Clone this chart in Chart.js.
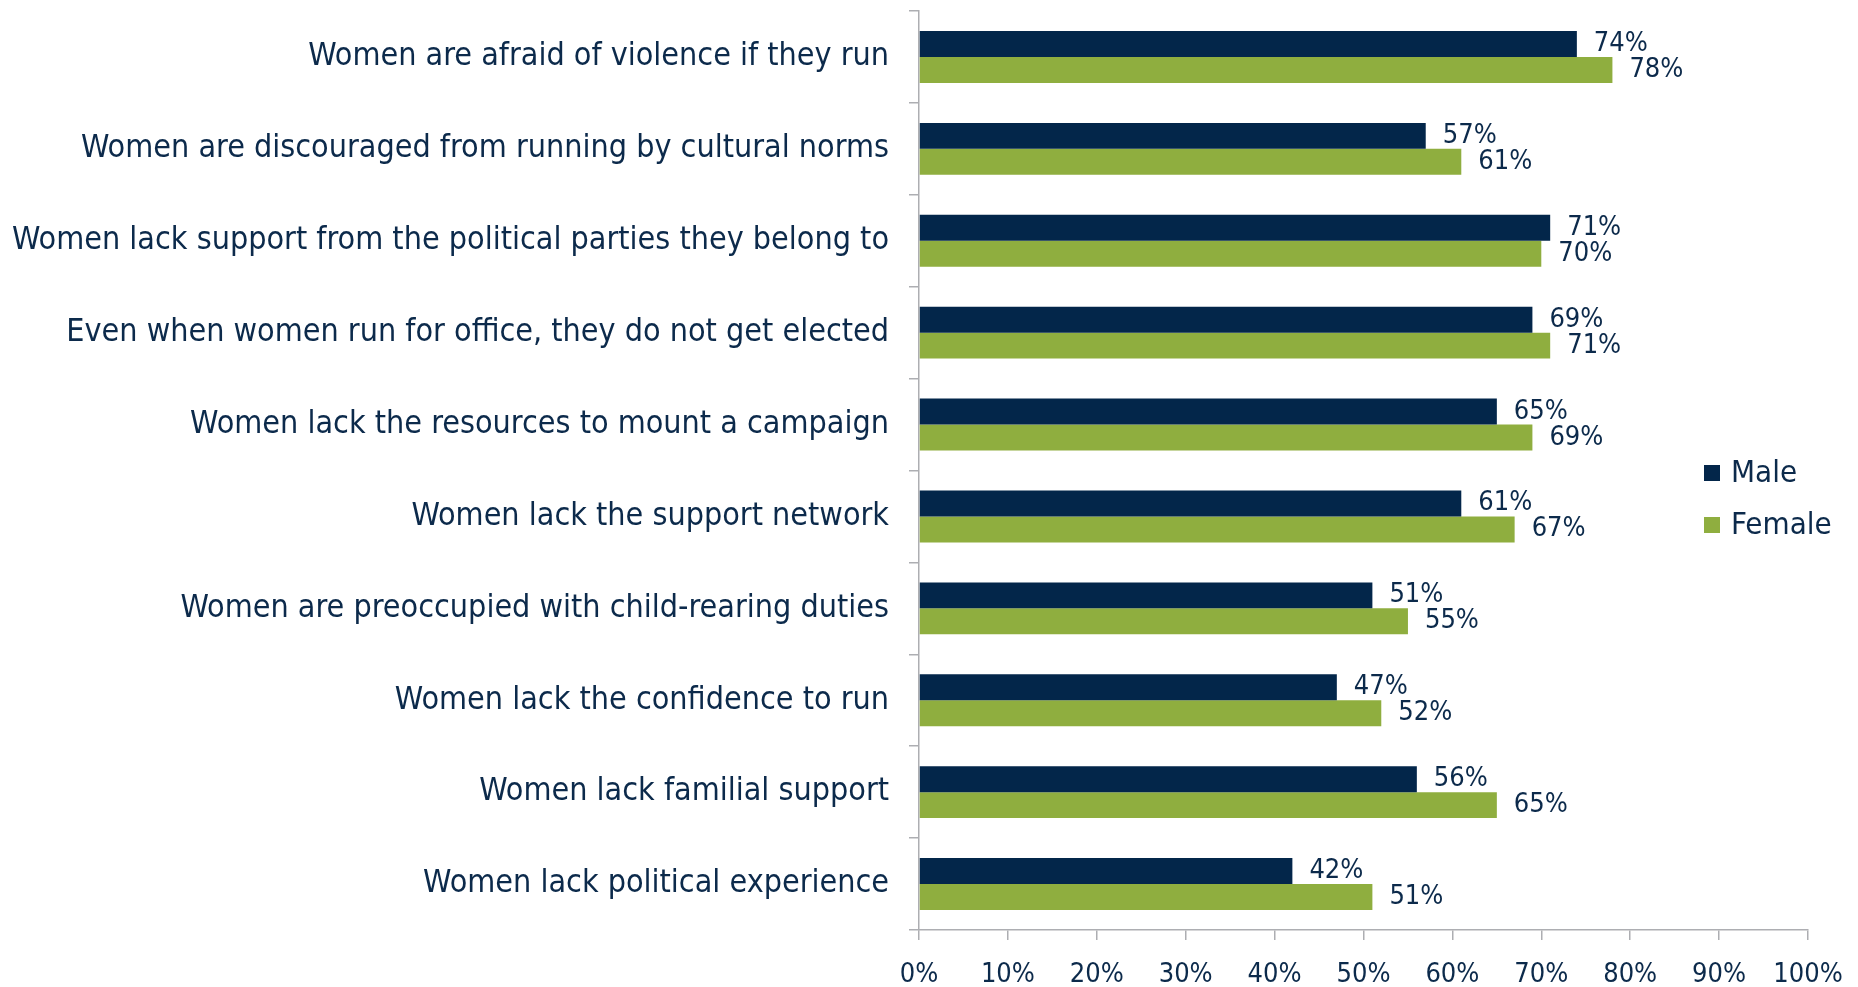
<!DOCTYPE html>
<html>
<head>
<meta charset="utf-8">
<script src="https://cdn.jsdelivr.net/npm/chart.js@4.4.1/dist/chart.umd.min.js"></script>
<style>
html,body{margin:0;padding:0;background:#fff;}
#wrap{position:relative;width:1858px;height:987px;}
</style>
</head>
<body>
<div id="wrap"><canvas id="c" width="1858" height="987"></canvas></div>
<script>
const categories = [
  "Women are afraid of violence if they run",
  "Women are discouraged from running by cultural norms",
  "Women lack support from the political parties they belong to",
  "Even when women run for office, they do not get elected",
  "Women lack the resources to mount a campaign",
  "Women lack the support network",
  "Women are preoccupied with child-rearing duties",
  "Women lack the confidence to run",
  "Women lack familial support",
  "Women lack political experience"
];
const seriesNames = ["Male", "Female"];
const maleValues = [74, 57, 71, 69, 65, 61, 51, 47, 56, 42];
const femaleValues = [78, 61, 70, 71, 69, 67, 55, 52, 65, 51];
const xTickValues = [0, 10, 20, 30, 40, 50, 60, 70, 80, 90, 100];

const FONT = "'DejaVu Sans Condensed', 'DejaVu Sans', sans-serif";
const FS_LABEL = 32;
const FS_NUM = 27;
const FS_LEG = 31;
const TXT = '#0c2a4b';
const GRAY = '#adaeb2';
const COLORS = ['#03264a', '#8fae3f'];

const dataLabelPlugin = {
  id: 'dataLabels',
  afterDatasetsDraw(chart) {
    const ctx = chart.ctx;
    ctx.save();
    ctx.font = FS_NUM + 'px ' + FONT;
    ctx.fillStyle = TXT;
    ctx.textAlign = 'left';
    ctx.textBaseline = 'middle';
    chart.data.datasets.forEach((ds, di) => {
      const meta = chart.getDatasetMeta(di);
      meta.data.forEach((el, i) => {
        ctx.fillText(ds.data[i] + '%', el.x + 17, el.y);
      });
    });
    ctx.restore();
  }
};

const legendPlugin = {
  id: 'customLegend',
  afterDraw(chart) {
    const ctx = chart.ctx;
    ctx.save();
    ctx.font = FS_LEG + 'px ' + FONT;
    ctx.textAlign = 'left';
    ctx.textBaseline = 'middle';
    const x0 = 1704, ys = [473, 525];
    chart.data.datasets.forEach((ds, di) => {
      ctx.fillStyle = ds.backgroundColor;
      ctx.fillRect(x0, ys[di] - 8, 16, 16);
      ctx.fillStyle = TXT;
      ctx.fillText(ds.label, x0 + 27, ys[di] + 1);
    });
    ctx.restore();
  }
};

new Chart(document.getElementById('c'), {
  type: 'bar',
  data: {
    labels: categories,
    datasets: [
      { label: seriesNames[0], data: maleValues, backgroundColor: COLORS[0] },
      { label: seriesNames[1], data: femaleValues, backgroundColor: COLORS[1] }
    ]
  },
  options: {
    indexAxis: 'y',
    responsive: false,
    animation: false,
    devicePixelRatio: 1,
    layout: { padding: { top: 0, right: 50, left: 0, bottom: 0 } },
    datasets: { bar: { categoryPercentage: 0.565, barPercentage: 1.0 } },
    plugins: { legend: { display: false }, tooltip: { enabled: false } },
    scales: {
      x: {
        min: 0, max: 100,
        afterBuildTicks(scale) { scale.ticks = xTickValues.map(v => ({ value: v })); },
        afterFit(scale) { scale.height = 57; scale.paddingLeft = 0; scale.paddingRight = 0; },
        grid: { drawOnChartArea: false, drawTicks: true, tickLength: 10, color: GRAY, lineWidth: 1.5 },
        border: { display: true, color: GRAY, width: 1.5 },
        ticks: { color: TXT, font: { family: FONT, size: FS_NUM }, padding: 19, callback: v => v + '%' }
      },
      y: {
        afterFit(scale) { scale.width = 919; scale.paddingTop = 11; scale.paddingBottom = 0; },
        grid: { drawOnChartArea: false, drawTicks: true, tickLength: 10, color: GRAY, lineWidth: 1.5 },
        border: { display: true, color: GRAY, width: 1.5 },
        ticks: { color: TXT, font: { family: FONT, size: FS_LABEL }, padding: 20, autoSkip: false }
      }
    }
  },
  plugins: [dataLabelPlugin, legendPlugin]
});
</script>
</body>
</html>
